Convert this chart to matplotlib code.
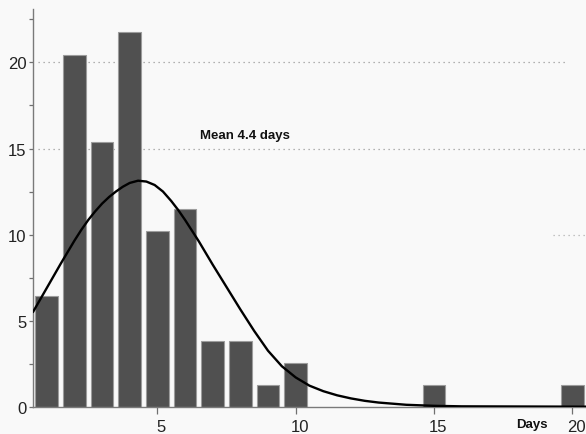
import matplotlib
matplotlib.use('Agg')
import matplotlib.pyplot as plt
import matplotlib.transforms as mtransforms

# percentage of cases by duration (days)
days = [1, 2, 3, 4, 5, 6, 7, 8, 9, 10, 15, 20]
pct = [6.42, 20.45, 15.38, 21.75, 10.22, 11.5, 3.83, 3.83, 1.28, 2.56, 1.28, 1.28]

# fitted curve
curve_x = [0.5, 1.0, 1.5, 2.0, 2.25, 2.5, 2.75, 3.0, 3.25, 3.5, 3.75, 4.0,
           4.3, 4.6, 4.9, 5.2, 5.5, 5.75, 6.0, 6.5, 7.0, 7.5, 8.0, 8.5, 9.0,
           9.5, 10.0, 10.5, 11.0, 11.5, 12.0, 12.5, 13.0, 14.0, 15.0, 16.0, 20.5]
curve_y = [5.5, 6.9, 8.3, 9.65, 10.28, 10.85, 11.35, 11.8, 12.18, 12.5, 12.78,
           13.0, 13.13, 13.08, 12.88, 12.5, 11.95, 11.43, 10.85, 9.6, 8.25,
           6.95, 5.65, 4.4, 3.25, 2.35, 1.7, 1.22, 0.9, 0.66, 0.48, 0.34, 0.24,
           0.11, 0.05, 0.02, 0.0]

yticks = [0, 5, 10, 15, 20]
xticks = [5, 10, 15, 20]

bg = '#f9f9f9'
plt.rcParams['font.family'] = ['Liberation Sans', 'DejaVu Sans']

fig = plt.figure(figsize=(5.86, 4.35), dpi=100, facecolor=bg)
ax = fig.add_axes([0.0563, 0.0628, 0.9437, 0.914])
ax.set_facecolor(bg)

# dotted grid lines (partial, as in the original)
ax.hlines(20, 0.68, 19.78, colors='#9a9a9a', linestyles=(0, (1, 3)), lw=0.9, zorder=1)
ax.hlines(15, 0.68, 20.5, colors='#9a9a9a', linestyles=(0, (1, 3)), lw=0.9, zorder=1)
ax.hlines(10, 19.3, 20.5, colors='#b0b0b0', linestyles=(0, (1, 3)), lw=0.9, zorder=1)

ax.bar(days, pct, width=0.82, color='#505050', edgecolor='#9c9c9c', lw=0.8, zorder=2)
ax.plot(curve_x, curve_y, color='black', lw=1.7, zorder=3,
        solid_capstyle='round', solid_joinstyle='round')

ax.text(6.55, 15.8, 'Mean 4.4 days', fontsize=9.5, fontweight='bold',
        va='center', ha='left', color='#111111')
ax.text(19.1, -1.0, 'Days', fontsize=9.5, fontweight='bold', ha='right',
        va='center', color='#111111', clip_on=False)

ax.set_xlim(0.5, 20.5)
ax.set_ylim(0, 23.1)

for s in ['top', 'right']:
    ax.spines[s].set_visible(False)
ax.spines['left'].set_color('#7a7a7a')
ax.spines['bottom'].set_color('#7a7a7a')
ax.spines['left'].set_linewidth(1.0)
ax.spines['bottom'].set_linewidth(1.0)

ax.set_yticks(yticks)
ax.set_yticks([2.5, 7.5, 12.5, 17.5, 22.5], minor=True)
ax.set_xticks(xticks)
ax.tick_params(axis='y', which='both', direction='out', length=3, width=0.9,
               color='#707070', labelsize=12, labelcolor='#222222', pad=1.5)
ax.tick_params(axis='x', direction='inout', length=10, width=0.9,
               color='#707070', labelsize=12, labelcolor='#222222', pad=4)

offset = mtransforms.ScaledTranslation(4 / 100, 0, fig.dpi_scale_trans)
for lab in ax.get_xticklabels():
    lab.set_transform(lab.get_transform() + offset)

fig.savefig('out.png', dpi=100, facecolor=bg)
